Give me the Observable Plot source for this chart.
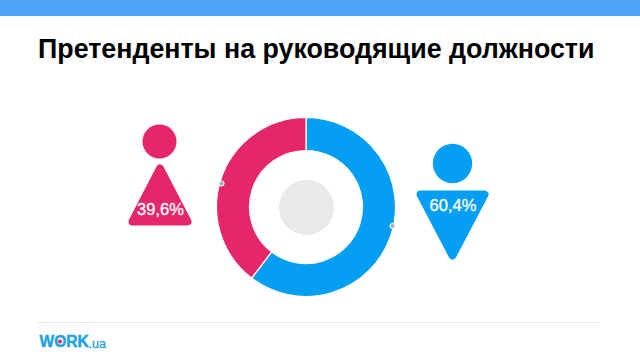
<!DOCTYPE html>
<html><head><meta charset="utf-8">
<script src="https://cdn.jsdelivr.net/npm/d3@7"></script>
<script src="https://cdn.jsdelivr.net/npm/@observablehq/plot@0.6"></script>
<style>
html,body{margin:0;padding:0;background:#fff;width:640px;height:358px;overflow:hidden}
#band{height:16px;background:#4fa5f9}
h1{margin:0;height:54px;padding-left:38px;box-sizing:border-box;font:bold 26.8px/67px "Liberation Sans",Arial,sans-serif;color:#000;white-space:nowrap;overflow:visible}
svg{display:block}
</style></head><body>
<div id="band"></div>
<h1>Претенденты на руководящие должности</h1>
<div id="chart"></div>
<script>
const categories = ["Мужчины", "Женщины"];
const shares = [60.4, 39.6];
const colors = ["#049ff2", "#e5266b"];
const labels = ["60,4%", "39,6%"];
const heads = [{x: 452, y: 163, r: 19.7}, {x: 159, y: 141, r: 17}];
const bodies = [{x: 452, y: 224.5, w: 72, h: 69, dir: -1}, {x: 159.5, y: 194.5, w: 63, h: 61, dir: 1}];
const labelPos = [{x: 452.5, y: 205}, {x: 160, y: 209}];
const handles = [{x: 392, y: 225.5}, {x: 221, y: 183}];
const center = {x: 306, y: 207, outer: 89.5, inner: 56.5, hole: 27.5};

const triangle = (w, h, dir) => ({
  draw(c) {
    const i = 4; // corner inset, drawn with a round stroke join
    c.moveTo(0, -dir * (h / 2 - i));
    c.lineTo(w / 2 - i, dir * (h / 2 - i));
    c.lineTo(-w / 2 + i, dir * (h / 2 - i));
    c.closePath();
  }
});

function donut(index, {x, y}) {
  const pie = d3.pie().sort(null)(shares);
  const arc = d3.arc().innerRadius(center.inner).outerRadius(center.outer);
  const g = d3.create("svg:g").attr("transform", `translate(${x(center.x)},${y(center.y)})`);
  g.selectAll("path").data(pie).join("path")
    .attr("d", arc).attr("fill", (d, i) => colors[i])
    .attr("stroke", "#fff").attr("stroke-width", 1.2);
  return g.node();
}

const font = '"Liberation Sans",Arial,sans-serif';
const plot = Plot.plot({
  width: 640, height: 288,
  margin: 0,
  x: {domain: [0, 640], range: [0, 640], axis: null},
  y: {domain: [70, 358], range: [0, 288], axis: null},
  marks: [
    donut,
    Plot.dot([center], {x: "x", y: "y", r: center.hole, fill: "#e9e9eb", stroke: "none"}),
    Plot.dot(handles, {x: "x", y: "y", r: 2.6, fill: "#a9b1b8", stroke: "#fff", strokeWidth: 1}),
    ...heads.map((h, i) => Plot.dot([h], {x: "x", y: "y", r: h.r, fill: colors[i], stroke: "none"})),
    ...bodies.map((b, i) => Plot.dot([b], {
      x: "x", y: "y", r: 10, symbol: triangle(b.w, b.h, b.dir),
      fill: colors[i], stroke: colors[i], strokeWidth: 8, strokeLinejoin: "round"
    })),
    Plot.text(labelPos, {x: "x", y: "y", text: (d, i) => labels[i], fill: "#fff",
      fontSize: 16.5, fontFamily: font, fontWeight: 500, stroke: "#fff", strokeWidth: 0.3}),
    Plot.ruleY([322], {x1: 38, x2: 600, stroke: "#e6e6e6", strokeWidth: 1}),
    Plot.text(["WORK"], {x: 39, y: 341, text: d => d, textAnchor: "start", fill: "#22a3dd",
      stroke: "#22a3dd", strokeWidth: 0.5,
      fontSize: 15.6, fontWeight: "bold", fontFamily: font}),
    Plot.text([".ua"], {x: 88, y: 343, text: d => d, textAnchor: "start", fill: "#22a3dd",
      fontSize: 12.5, fontFamily: font, stroke: "#22a3dd", strokeWidth: 0.3}),
    Plot.dot([{x: 59.5, y: 341}], {x: "x", y: "y", r: 2, fill: "#e5266b", stroke: "none"})
  ]
});
document.getElementById("chart").append(plot);
</script>
</body></html>
